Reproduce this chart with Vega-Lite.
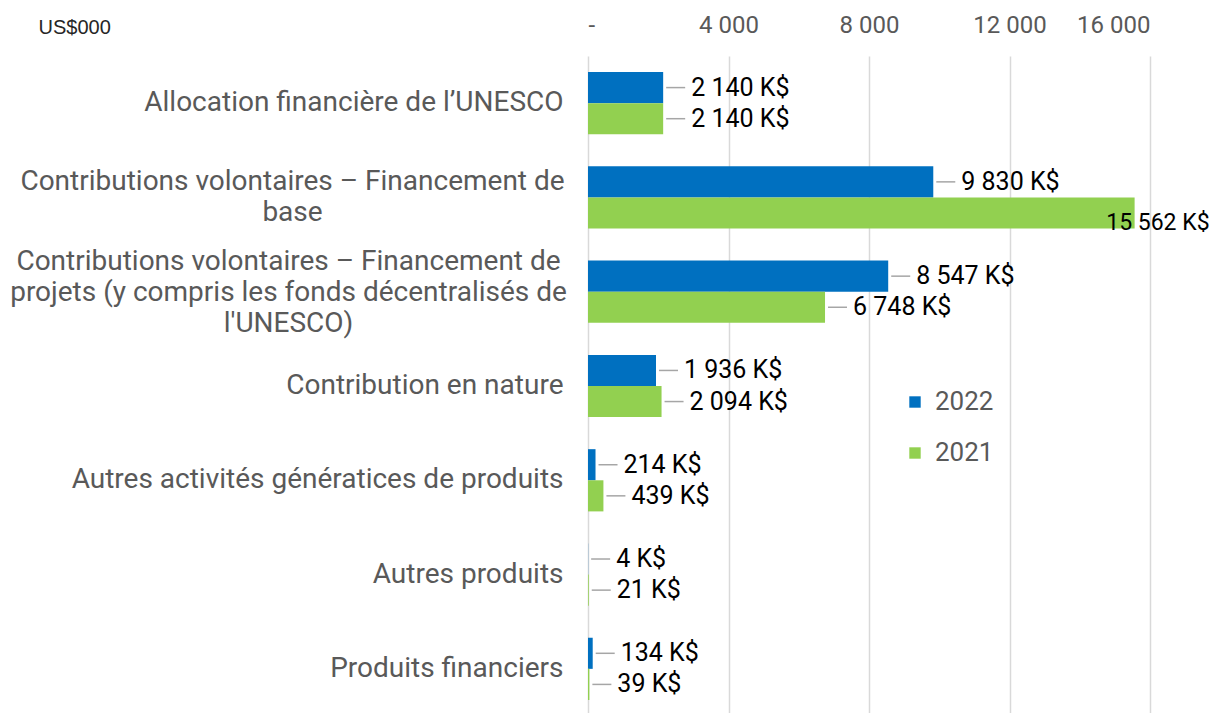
{
  "$schema": "https://vega.github.io/schema/vega-lite/v6.json",
  "autosize": {"type": "none"},
  "padding": {"left": 588, "top": 56, "right": 62, "bottom": 0},
  "width": 562,
  "height": 660,
  "background": "white",
  "data": {"values": [
    {"cat": "Allocation financière de l’UNESCO", "year": "2022", "value": 2140},
    {"cat": "Allocation financière de l’UNESCO", "year": "2021", "value": 2140},
    {"cat": "Contributions volontaires – Financement de|base", "year": "2022", "value": 9830},
    {"cat": "Contributions volontaires – Financement de|base", "year": "2021", "value": 15562},
    {"cat": "Contributions volontaires – Financement de |projets (y compris les fonds décentralisés de|l'UNESCO)", "year": "2022", "value": 8547},
    {"cat": "Contributions volontaires – Financement de |projets (y compris les fonds décentralisés de|l'UNESCO)", "year": "2021", "value": 6748},
    {"cat": "Contribution en nature", "year": "2022", "value": 1936},
    {"cat": "Contribution en nature", "year": "2021", "value": 2094},
    {"cat": "Autres activités génératices de produits", "year": "2022", "value": 214},
    {"cat": "Autres activités génératices de produits", "year": "2021", "value": 439},
    {"cat": "Autres produits ", "year": "2022", "value": 4},
    {"cat": "Autres produits ", "year": "2021", "value": 21},
    {"cat": "Produits financiers", "year": "2022", "value": 134},
    {"cat": "Produits financiers", "year": "2021", "value": 39}
  ]},
  "transform": [
    {"calculate": "replace(format(datum.value, ','), ',', ' ') + ' K$'", "as": "lbl"}
  ],
  "encoding": {
    "y": {
      "field": "cat", "type": "nominal", "sort": null,
      "scale": {"paddingInner": 0.34, "paddingOuter": 0.17},
      "axis": {
        "title": null, "ticks": false, "domain": false,
        "labelPadding": {"condition": [
          {"test": "indexof(datum.value, 'base') >= 0", "value": 296},
          {"test": "indexof(datum.value, 'projets') >= 0", "value": 300}
        ], "value": 25},
        "labelOffset": {"condition": [
          {"test": "indexof(datum.value, 'base') >= 0", "value": -15},
          {"test": "indexof(datum.value, 'projets') >= 0", "value": -30}
        ], "value": 0},
        "labelAlign": {"condition": {"test": "indexof(datum.value, '|') >= 0", "value": "center"}, "value": "right"},
        "labelExpr": "split(datum.label, '|')", "labelLimit": 800,
        "labelFont": "Roboto", "labelFontSize": 28, "labelColor": "#595959",
        "labelLineHeight": 31
      }
    },
    "yOffset": {"field": "year", "type": "nominal", "sort": ["2022", "2021"], "scale": {"paddingInner": 0, "paddingOuter": 0}},
    "x": {
      "field": "value", "type": "quantitative",
      "scale": {"domain": [0, 16000], "nice": false},
      "axis": {
        "orient": "top", "values": [0, 4000, 8000, 12000, 16000],
        "labelExpr": "datum.value == 0 ? '-' : replace(format(datum.value, ','), ',', ' ')",
        "ticks": false, "domain": false, "grid": true, "gridColor": "#d9d9d9", "gridWidth": 1.5,
        "labelFont": "Roboto", "labelFontSize": 24, "labelColor": "#595959", "labelPadding": 19,
        "title": "US$000", "titleFont": "Arial", "titleFontSize": 20, "titleFontWeight": "normal",
        "titleColor": "#262626", "titleX": -550, "titleY": -29, "titleAlign": "left", "titleBaseline": "middle"
      }
    }
  },
  "layer": [
    {
      "mark": {"type": "bar"},
      "encoding": {
        "color": {
          "field": "year", "type": "nominal",
          "scale": {"domain": ["2022", "2021"], "range": ["#0070C0", "#92D050"]},
          "legend": {
            "title": null, "orient": "none", "legendX": 314, "legendY": 333,
            "symbolType": "square", "symbolSize": 130, "symbolStrokeWidth": 0,
            "labelFont": "Roboto", "labelFontSize": 26, "labelColor": "#595959",
            "rowPadding": 25, "labelOffset": 7
          }
        }
      }
    },
    {
      "transform": [{"filter": "datum.value < 15000"}],
      "mark": {"type": "rule", "color": "#a6a6a6", "strokeWidth": 1.5, "xOffset": 3, "x2Offset": 22},
      "encoding": {"x2": {"field": "value"}}
    },
    {
      "transform": [{"filter": "datum.value < 15000"}],
      "mark": {"type": "text", "align": "left", "baseline": "middle", "dx": 28, "font": "Roboto", "fontSize": 25, "fontWeight": "normal", "color": "black"},
      "encoding": {"text": {"field": "lbl"}}
    },
    {
      "transform": [{"filter": "datum.value >= 15000"}],
      "mark": {"type": "text", "align": "right", "baseline": "middle", "dx": 75, "dy": 10, "font": "Roboto", "fontSize": 23, "fontWeight": "normal", "color": "black"},
      "encoding": {"text": {"field": "lbl"}}
    }
  ],
  "config": {"view": {"stroke": null}}
}
